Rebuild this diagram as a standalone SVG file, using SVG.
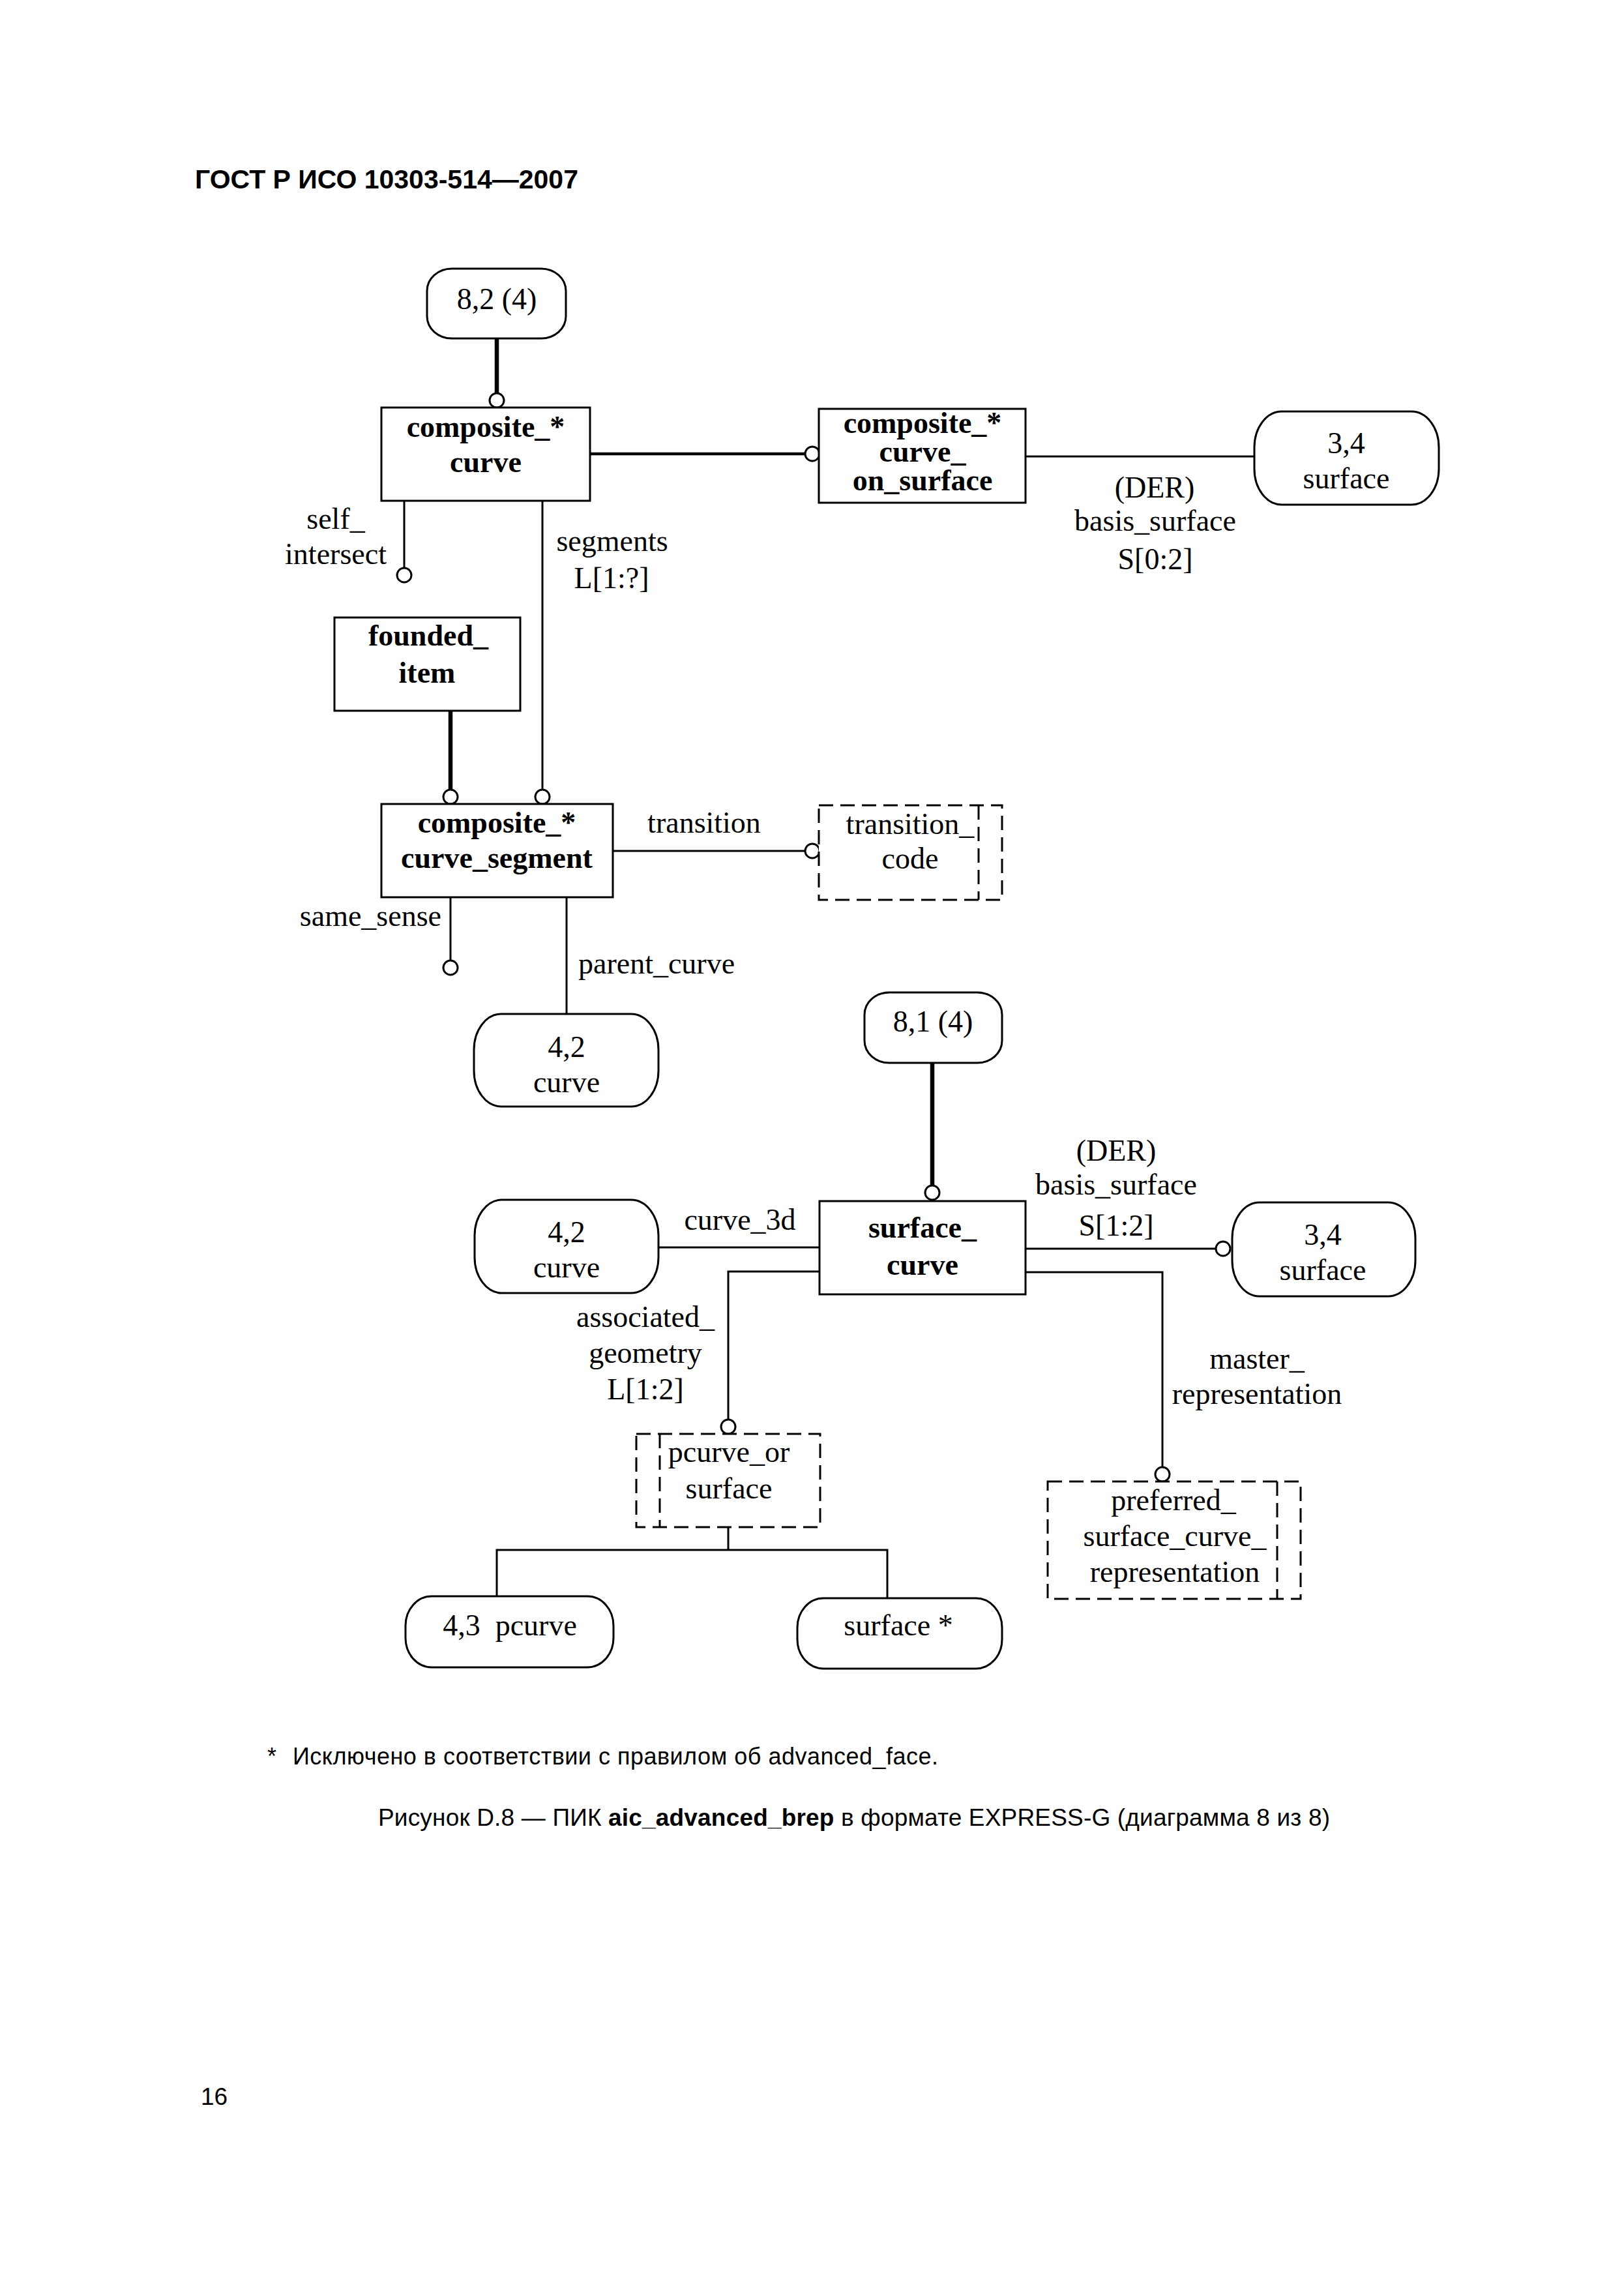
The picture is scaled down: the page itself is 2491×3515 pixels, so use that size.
<svg xmlns="http://www.w3.org/2000/svg" width="2491" height="3515" viewBox="0 0 2491 3515">
<style>
.bg{fill:#fff}
.box{fill:#fff;stroke:#000;stroke-width:3}
.dbox{fill:#fff;stroke:#000;stroke-width:3;stroke-dasharray:22 11}
.dline{fill:none;stroke:#000;stroke-width:3;stroke-dasharray:22 11}
.ref{fill:#fff;stroke:#000;stroke-width:3}
.ln{fill:none;stroke:#000;stroke-width:3}
.mid{fill:none;stroke:#000;stroke-width:4.5}
.thick{fill:none;stroke:#000;stroke-width:6.5}
.circ{fill:#fff;stroke:#000;stroke-width:3}
.t{font-family:"Liberation Serif","Times New Roman",serif;font-size:46px;fill:#000}
.b{font-family:"Liberation Serif","Times New Roman",serif;font-size:46px;font-weight:bold;fill:#000}
.c{text-anchor:middle}
.e{text-anchor:end}
.s{font-family:"Liberation Sans",Arial,sans-serif;fill:#000}
</style>
<rect class="bg" x="0" y="0" width="2491" height="3515"/>
<text class="s" x="299" y="289" font-size="41" font-weight="bold">ГОСТ Р ИСО 10303-514—2007</text>

<g id="connectors">
  <line class="thick" x1="762" y1="519" x2="762" y2="603"/>
  <circle class="circ" cx="762" cy="614" r="11"/>
  <line class="mid" x1="905" y1="696" x2="1235" y2="696"/>
  <circle class="circ" cx="1246" cy="696" r="11"/>
  <line class="ln" x1="1573" y1="700" x2="1924" y2="700"/>
  <text class="t c" x="1771" y="763">(DER)</text>
  <text class="t c" x="1772" y="814">basis_surface</text>
  <text class="t c" x="1772" y="873">S[0:2]</text>

  <line class="ln" x1="620" y1="768" x2="620" y2="871"/>
  <circle class="circ" cx="620" cy="882" r="11"/>
  <text class="t c" x="515" y="811">self_</text>
  <text class="t c" x="515" y="865">intersect</text>

  <line class="ln" x1="832" y1="768" x2="832" y2="1211"/>
  <circle class="circ" cx="832" cy="1222" r="11"/>
  <text class="t c" x="939" y="845">segments</text>
  <text class="t c" x="938" y="902">L[1:?]</text>

  <line class="thick" x1="691" y1="1090" x2="691" y2="1211"/>
  <circle class="circ" cx="691" cy="1222" r="11"/>

  <line class="ln" x1="940" y1="1305" x2="1235" y2="1305"/>
  <circle class="circ" cx="1246" cy="1305" r="11"/>
  <text class="t c" x="1080" y="1277">transition</text>

  <line class="ln" x1="691" y1="1376" x2="691" y2="1473"/>
  <circle class="circ" cx="691" cy="1484" r="11"/>
  <text class="t e" x="677" y="1420">same_sense</text>

  <line class="ln" x1="869" y1="1376" x2="869" y2="1555"/>
  <text class="t" x="887" y="1493">parent_curve</text>

  <line class="thick" x1="1430" y1="1630" x2="1430" y2="1818"/>
  <circle class="circ" cx="1430" cy="1829" r="11"/>

  <line class="ln" x1="1010" y1="1913" x2="1257" y2="1913"/>
  <text class="t c" x="1135" y="1886">curve_3d</text>

  <line class="ln" x1="1573" y1="1915" x2="1865" y2="1915"/>
  <circle class="circ" cx="1876" cy="1915" r="11"/>
  <text class="t c" x="1712" y="1780">(DER)</text>
  <text class="t c" x="1712" y="1832">basis_surface</text>
  <text class="t c" x="1712" y="1895">S[1:2]</text>

  <polyline class="ln" points="1257,1950 1117,1950 1117,2177"/>
  <circle class="circ" cx="1117" cy="2188" r="11"/>
  <text class="t c" x="990" y="2035">associated_</text>
  <text class="t c" x="990" y="2090">geometry</text>
  <text class="t c" x="990" y="2146">L[1:2]</text>

  <polyline class="ln" points="1573,1951 1783,1951 1783,2250"/>
  <circle class="circ" cx="1783" cy="2261" r="11"/>
  <text class="t c" x="1928" y="2099">master_</text>
  <text class="t c" x="1928" y="2153">representation</text>

  <line class="ln" x1="1117" y1="2342" x2="1117" y2="2377"/>
  <polyline class="ln" points="762,2448 762,2377 1361,2377 1361,2451"/>
</g>

<g id="ref_8_2">
  <rect class="ref" x="655" y="412" width="213" height="107" rx="38" ry="34"/>
  <text class="t c" x="762" y="474">8,2 (4)</text>
</g>
<g id="composite_curve">
  <rect class="box" x="585" y="625" width="320" height="143"/>
  <text class="b c" x="745" y="670">composite_*</text>
  <text class="b c" x="745" y="724">curve</text>
</g>
<g id="composite_curve_on_surface">
  <rect class="box" x="1256" y="627" width="317" height="144"/>
  <text class="b c" x="1415" y="664" font-size="45">composite_*</text>
  <text class="b c" x="1415" y="708" font-size="45">curve_</text>
  <text class="b c" x="1415" y="752" font-size="45">on_surface</text>
</g>
<g id="surface_3_4_top">
  <rect class="ref" x="1924" y="631" width="283" height="143" rx="42" ry="55"/>
  <text class="t c" x="2065" y="695">3,4</text>
  <text class="t c" x="2065" y="749">surface</text>
</g>
<g id="founded_item">
  <rect class="box" x="513" y="947" width="285" height="143"/>
  <text class="b c" x="657" y="990">founded_</text>
  <text class="b c" x="655" y="1047">item</text>
</g>
<g id="composite_curve_segment">
  <rect class="box" x="585" y="1233" width="355" height="143"/>
  <text class="b c" x="762" y="1277">composite_*</text>
  <text class="b c" x="762" y="1331">curve_segment</text>
</g>
<g id="transition_code">
  <rect class="dbox" x="1256" y="1235" width="281" height="145"/>
  <line class="dline" x1="1501" y1="1235" x2="1501" y2="1380"/>
  <text class="t c" x="1396" y="1279">transition_</text>
  <text class="t c" x="1396" y="1332">code</text>
</g>
<g id="curve_4_2_top">
  <rect class="ref" x="727" y="1555" width="283" height="142" rx="42" ry="55"/>
  <text class="t c" x="869" y="1621">4,2</text>
  <text class="t c" x="869" y="1675">curve</text>
</g>
<g id="ref_8_1">
  <rect class="ref" x="1326" y="1522" width="211" height="108" rx="38" ry="34"/>
  <text class="t c" x="1431" y="1582">8,1 (4)</text>
</g>
<g id="curve_4_2_bottom">
  <rect class="ref" x="728" y="1840" width="282" height="143" rx="42" ry="55"/>
  <text class="t c" x="869" y="1905">4,2</text>
  <text class="t c" x="869" y="1959">curve</text>
</g>
<g id="surface_curve">
  <rect class="box" x="1257" y="1842" width="316" height="143"/>
  <text class="b c" x="1415" y="1898">surface_</text>
  <text class="b c" x="1415" y="1955">curve</text>
</g>
<g id="surface_3_4_bottom">
  <rect class="ref" x="1890" y="1844" width="281" height="144" rx="42" ry="55"/>
  <text class="t c" x="2029" y="1909">3,4</text>
  <text class="t c" x="2029" y="1963">surface</text>
</g>
<g id="pcurve_or_surface">
  <rect class="dbox" x="976" y="2199" width="282" height="143"/>
  <line class="dline" x1="1012" y1="2199" x2="1012" y2="2342"/>
  <text class="t c" x="1118" y="2242">pcurve_or</text>
  <text class="t c" x="1118" y="2298">surface</text>
</g>
<g id="preferred_surface_curve_representation">
  <rect class="dbox" x="1607" y="2272" width="388" height="180"/>
  <line class="dline" x1="1959" y1="2272" x2="1959" y2="2452"/>
  <text class="t c" x="1800" y="2316">preferred_</text>
  <text class="t c" x="1802" y="2371">surface_curve_</text>
  <text class="t c" x="1802" y="2426">representation</text>
</g>
<g id="pcurve_4_3">
  <rect class="ref" x="622" y="2448" width="319" height="109" rx="40" ry="45"/>
  <text class="t c" x="782" y="2508" xml:space="preserve">4,3  pcurve</text>
</g>
<g id="surface_star">
  <rect class="ref" x="1223" y="2451" width="314" height="108" rx="40" ry="45"/>
  <text class="t c" x="1378" y="2508">surface *</text>
</g>

<text class="s" x="410" y="2706" font-size="36">*</text>
<text class="s" x="449" y="2706" font-size="36" textLength="990" lengthAdjust="spacing">Исключено в соответствии с правилом об advanced_face.</text>
<text class="s" x="580" y="2800" font-size="37" textLength="1460" lengthAdjust="spacing">Рисунок D.8 — ПИК <tspan font-weight="bold">aic_advanced_brep</tspan> в формате EXPRESS-G (диаграмма 8 из 8)</text>
<text class="s" x="308" y="3228" font-size="37">16</text>
</svg>
